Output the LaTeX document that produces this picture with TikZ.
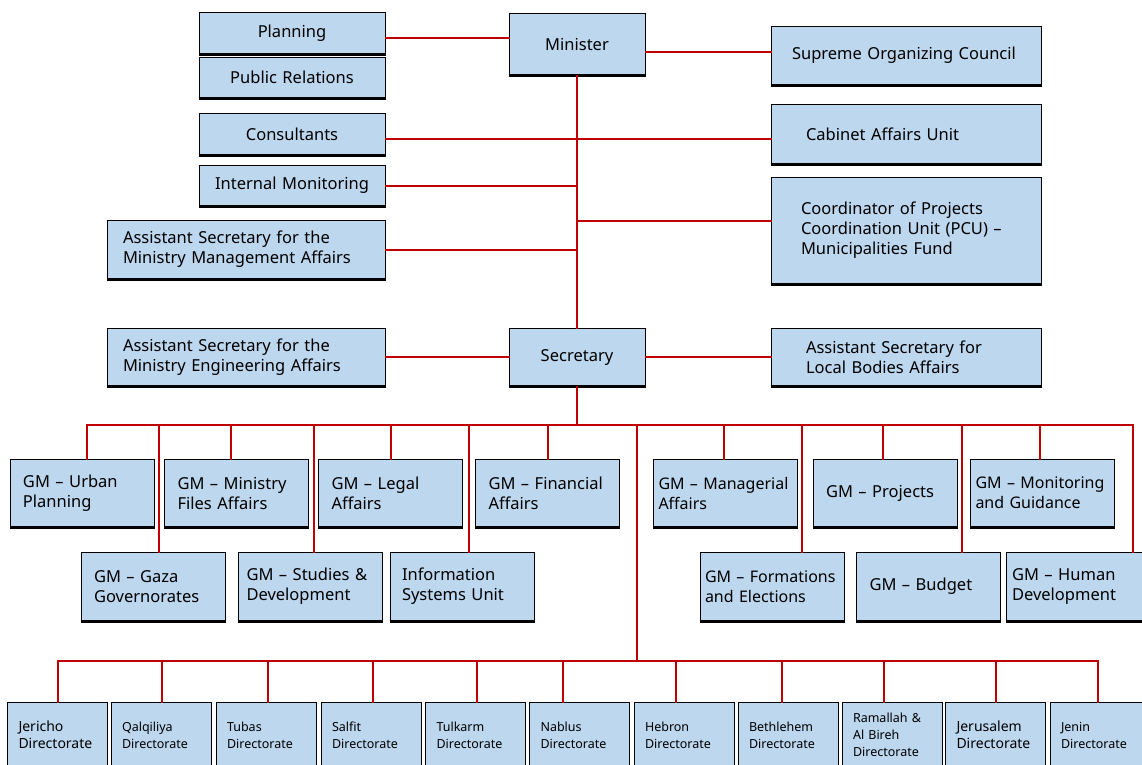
\documentclass[tikz,border=0pt]{standalone}
\usepackage{fontspec}
\usepackage{tikz}
\newfontfamily\orgfont{Noto Sans}
\definecolor{boxblue}{RGB}{189,215,238}
\definecolor{linkred}{RGB}{192,0,0}
\hyphenpenalty=10000
\exhyphenpenalty=10000

\begin{document}
\begin{tikzpicture}[x=1pt, y=-1pt,
    box/.style={draw=black, line width=1pt, fill=boxblue, align=left, inner ysep=0pt,
      font=\orgfont\fontsize{16.5}{20}\selectfont,
      append after command={(\tikzlastnode.south west) edge[black, line width=3pt] (\tikzlastnode.south east)}},
    small/.style={box, align=center, inner xsep=10pt, text width=166pt, minimum height=41pt},
    head/.style={box, align=center, inner xsep=10pt, text width=116pt, minimum height=62pt},
    assist/.style={box, inner xsep=16pt, text width=246pt, minimum height=59pt},
    side/.style={box, inner xsep=#1, text width=270pt-2*#1, minimum height=59pt},
    side/.default=35pt,
    gm/.style={box, inner xsep=#1, text width=144pt-2*#1, minimum height=68pt},
    gm/.default=13pt,
    narrow/.style={font=\orgfont\fontsize{16}{20}\selectfont},
    dir/.style={box, inner xsep=11pt, text width=78pt, minimum height=66pt,
      font=\orgfont\fontsize{12.5}{17}\selectfont},
    link/.style={linkred, line width=2pt, line cap=rect}]

  \useasboundingbox (0,0) rectangle (1142,764);
  \clip (0,0) rectangle (1142,764);

  % minister level
  \node[small] (planning) at (292,33) {Planning};
  \node[small] (pubrel) at (292,77.5) {Public Relations};
  \node[small, minimum height=42pt] (consult) at (292,134) {Consultants};
  \node[small] (intmon) at (292,185.5) {Internal Monitoring};
  \node[assist] (mgmt) at (246,249.5) {Assistant Secretary for the\\Ministry Management Affairs};
  \node[head] (minister) at (577,44) {Minister};
  \node[side=21pt] (supreme) at (906,55.5) {Supreme Organizing Council};
  \node[side, minimum height=60pt] (cabinet) at (906,134) {Cabinet Affairs Unit};
  \node[side=30pt, minimum height=107pt] (pcu) at (906,230.5) {Coordinator of Projects\\Coordination Unit (PCU)~–\\Municipalities Fund};

  % secretary level
  \node[assist, minimum height=58pt] (engineer) at (246,357) {Assistant Secretary for the\\Ministry Engineering Affairs};
  \node[head, minimum height=58pt] (secretary) at (577,357) {Secretary};
  \node[side, minimum height=58pt] (local) at (906,357) {Assistant Secretary for\\Local Bodies Affairs};

  % general managers
  \node[gm] (urban) at (82,493) {GM~–~Urban\\Planning};
  \node[gm] (files) at (236.5,493) {GM~–~Ministry\\Files Affairs};
  \node[gm] (legal) at (390.5,493) {GM~–~Legal\\Affairs};
  \node[gm] (financial) at (547.5,493) {GM~–~Financial\\Affairs};
  \node[gm=5pt, narrow] (managerial) at (725.5,493) {GM~–~Managerial\\Affairs};
  \node[gm] (projects) at (885,493) {GM~–~Projects};
  \node[gm=5pt, narrow] (monitoring) at (1042.5,493) {GM~–~Monitoring\\and Guidance};
  \node[gm] (gaza) at (153,586.5) {GM~–~Gaza\\Governorates};
  \node[gm=8pt] (studies) at (310.5,586.5) {GM~–~Studies~\&\\Development};
  \node[gm=12pt] (infosys) at (462,586.5) {Information\\Systems Unit};
  \node[gm=5pt, narrow] (formations) at (772,586.5) {GM~–~Formations\\and Elections};
  \node[gm] (budget) at (928.5,586.5) {GM~–~Budget};
  \node[gm=6pt] (humandev) at (1078,586.5) {GM~–~Human\\Development};

  % directorates
  \node[dir, font=\orgfont\fontsize{14}{17}\selectfont] (jericho) at (57.5,735) {Jericho\\Directorate};
  \node[dir] (qalqiliya) at (161,735) {Qalqiliya\\Directorate};
  \node[dir] (tubas) at (266,735) {Tubas\\Directorate};
  \node[dir] (salfit) at (371,735) {Salfit\\Directorate};
  \node[dir] (tulkarm) at (475.5,735) {Tulkarm\\Directorate};
  \node[dir] (nablus) at (579.5,735) {Nablus\\Directorate};
  \node[dir] (hebron) at (684,735) {Hebron\\Directorate};
  \node[dir] (bethlehem) at (788,735) {Bethlehem\\Directorate};
  \node[dir] (ramallah) at (892,735) {Ramallah \&\\Al Bireh\\Directorate};
  \node[dir, font=\orgfont\fontsize{14}{17}\selectfont] (jerusalem) at (995.5,735) {Jerusalem\\Directorate};
  \node[dir] (jenin) at (1100,735) {Jenin\\Directorate};

  % connectors
  \draw[link] ([yshift=-5pt]planning.east) -- ([yshift=-5pt]planning.east -| minister.west);
  \draw[link] ([yshift=3.5pt]supreme.west) -- ([yshift=3.5pt]supreme.west -| minister.east);
  \draw[link] (minister.south) -- (secretary.north);
  \draw[link] ([yshift=-5pt]consult.east) -- ([yshift=-5pt]consult.east -| cabinet.west);
  \draw[link] (intmon.east) -- (intmon.east -| minister.south);
  \draw[link] (mgmt.east) -- (mgmt.east -| minister.south);
  \draw[link] ([yshift=9.5pt]pcu.west) -- ([yshift=9.5pt]pcu.west -| minister.south);
  \draw[link] (engineer.east) -- (secretary.west);
  \draw[link] (secretary.east) -- (local.west);

  \coordinate (gmbus) at (577,425);
  \coordinate (dirbus) at (637,661);
  \draw[link] (secretary.south) -- (gmbus);
  \draw[link] ([xshift=5pt]urban.north |- gmbus) -- ([xshift=55pt]humandev.north |- gmbus);
  \foreach \n/\dx in {urban/5, files/-6, legal/0, financial/0, managerial/-2, projects/-2,
      monitoring/-3, gaza/6, studies/3, infosys/7, formations/30, budget/33.5, humandev/55}
    \draw[link] ([xshift=\dx pt]\n.north) -- ([xshift=\dx pt]\n.north |- gmbus);

  \draw[link] (gmbus -| dirbus) -- (dirbus);
  \draw[link] ([xshift=0.5pt]jericho.north |- dirbus) -- ([xshift=-2pt]jenin.north |- dirbus);
  \foreach \n/\dx in {jericho/0.5, qalqiliya/1, tubas/2, salfit/2, tulkarm/1.5, nablus/-16.5,
      hebron/-8.5, bethlehem/-6, ramallah/-8, jerusalem/0, jenin/-2}
    \draw[link] ([xshift=\dx pt]\n.north) -- ([xshift=\dx pt]\n.north |- dirbus);
\end{tikzpicture}
\end{document}
